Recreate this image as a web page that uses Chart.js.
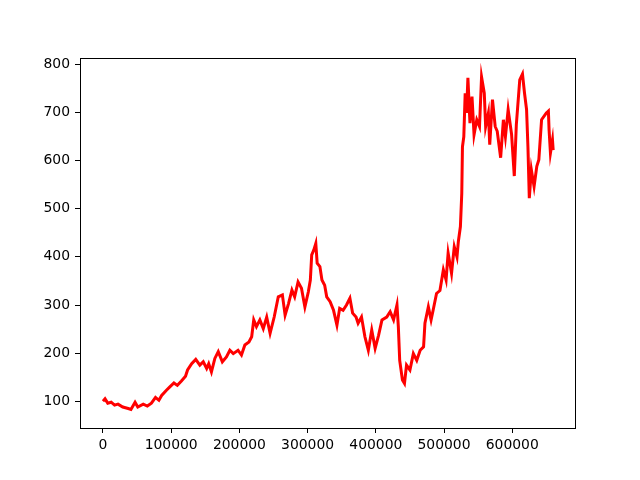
<!DOCTYPE html>
<html>
<head>
<meta charset="utf-8">
<script src="https://cdn.jsdelivr.net/npm/chart.js@4/dist/chart.umd.min.js"></script>
<style>
  html, body { margin: 0; padding: 0; background: #fff; }
  #wrap { width: 640px; height: 480px; }
</style>
</head>
<body>
<div id="wrap"><canvas id="lineChart" width="640" height="480"></canvas></div>
<script>
"use strict"

// Sample index (x) and price (y)
const xValues = [
    0, 3000, 7000, 12000, 17000, 22000, 29000, 37000, 41000, 47000,
    51000, 59000, 65000, 71000, 77000, 82000, 86000, 93000, 98000, 104000,
    109000, 115000, 121000, 124000, 130000, 136000, 142000, 147000, 152000, 155000,
    159000, 164000, 169000, 175000, 181000, 186000, 191000, 198000, 203000, 208000,
    214000, 218000, 221000, 225000, 230000, 235000, 240000, 245000, 251000, 257000,
    263000, 267000, 272000, 277000, 281000, 286000, 291000, 296000, 301000, 304000,
    306000, 309000, 312000, 314000, 318000, 321000, 325000, 328000, 333000, 338000,
    343000, 347000, 352000, 357000, 362000, 366000, 371000, 374000, 379000, 384000,
    389000, 394000, 399000, 404000, 409000, 416000, 421000, 426000, 431000, 433000,
    435000, 439000, 442000, 445000, 450000, 455000, 460000, 465000, 470000, 472000,
    477000, 481000, 484000, 489000, 494000, 499000, 503000, 506000, 511000, 515000,
    519000, 521000, 524000, 526000, 527000, 529000, 531000, 533000, 535000, 538000,
    541000, 544000, 548000, 552000, 555000, 559000, 561000, 565000, 567000, 571000,
    575000, 578000, 583000, 587000, 590000, 594000, 599000, 603000, 606000, 611000,
    615000, 618000, 621000, 623000, 625000, 628000, 632000, 636000, 639000, 643000,
    648000, 650000, 653000, 654000, 656000, 659000, 660000
];
const yValues = [
    100, 105, 96, 98, 92, 94, 88, 85, 83, 98,
    88, 94, 90, 96, 108, 102, 112, 123, 130, 138,
    133, 142, 152, 165, 178, 187, 175, 182, 168, 178,
    161, 189, 203, 182, 192, 206, 199, 206, 196, 217,
    223, 234, 269, 255, 269, 251, 275, 241, 275, 317,
    321, 279, 303, 331, 317, 348, 335, 296, 327, 352,
    404, 414, 428, 387, 380, 352, 341, 317, 307, 289,
    258, 293, 289, 300, 314, 283, 275, 262, 275, 234,
    206, 248, 210, 237, 269, 275, 286, 269, 300, 255,
    185, 144, 137, 175, 165, 199, 185, 206, 213, 262,
    296, 269, 289, 324, 330, 373, 352, 408, 366, 421,
    400, 432, 463, 532, 629, 650, 740, 699, 772, 678,
    733, 654, 685, 671, 774, 740, 671, 699, 633, 727,
    671, 661, 606, 685, 650, 706, 655, 568, 675, 768,
    780, 740, 706, 629, 522, 581, 546, 588, 602, 685,
    695, 699, 703, 664, 616, 643, 622
];

// Tick labels shown on each axis
const xTicks = [0, 100000, 200000, 300000, 400000, 500000, 600000];
const yTicks = [100, 200, 300, 400, 500, 600, 700, 800];

// Axis limits
const xMin = -33700;
const xMax = 692000;
const yMin = 44.4;
const yMax = 813.3;

const frame = {
    id: 'frame',
    afterDraw(chart) {
        const a = chart.chartArea;
        const ctx = chart.ctx;
        ctx.save();
        ctx.strokeStyle = '#000';
        ctx.lineWidth = 1;
        ctx.strokeRect(Math.round(a.left) + 0.5, Math.round(a.top) + 0.5,
            Math.round(a.right - a.left), Math.round(a.bottom - a.top));
        ctx.restore();
    }
};

function createLineChart() {
    const points = xValues.map((x, i) => ({ x: x, y: yValues[i] }));
    const ctx = document.getElementById('lineChart').getContext('2d');

    new Chart(ctx, {
        type: 'line',
        data: {
            datasets: [{
                data: points,
                borderColor: '#ff0000',
                borderWidth: 3,
                pointRadius: 0,
                tension: 0,
                fill: false
            }]
        },
        options: {
            responsive: false,
            animation: false,
            layout: { padding: { top: 58, right: 65, left: 0, bottom: 0 } },
            plugins: { legend: { display: false }, tooltip: { enabled: false } },
            scales: {
                x: {
                    type: 'linear',
                    min: xMin,
                    max: xMax,
                    ticks: {
                        color: '#000',
                        padding: 4,
                        maxRotation: 0,
                        autoSkip: false,
                        font: { family: 'DejaVu Sans', size: 13.9 },
                        callback: v => String(v)
                    },
                    afterBuildTicks: axis => {
                        axis.ticks = xTicks.map(v => ({ value: v }));
                    },
                    afterFit: axis => { axis.height = 52; },
                    grid: { drawOnChartArea: false, drawTicks: true, tickLength: 5, color: '#000' },
                    border: { display: true, color: '#000' }
                },
                y: {
                    min: yMin,
                    max: yMax,
                    ticks: {
                        color: '#000',
                        padding: 5,
                        autoSkip: false,
                        font: { family: 'DejaVu Sans', size: 13.9 },
                        callback: v => String(v)
                    },
                    afterBuildTicks: axis => {
                        axis.ticks = yTicks.map(v => ({ value: v }));
                    },
                    afterFit: axis => { axis.width = 80; },
                    grid: { drawOnChartArea: false, drawTicks: true, tickLength: 5, color: '#000' },
                    border: { display: true, color: '#000' }
                }
            }
        },
        plugins: [frame]
    });
}

createLineChart();
</script>
</body>
</html>
